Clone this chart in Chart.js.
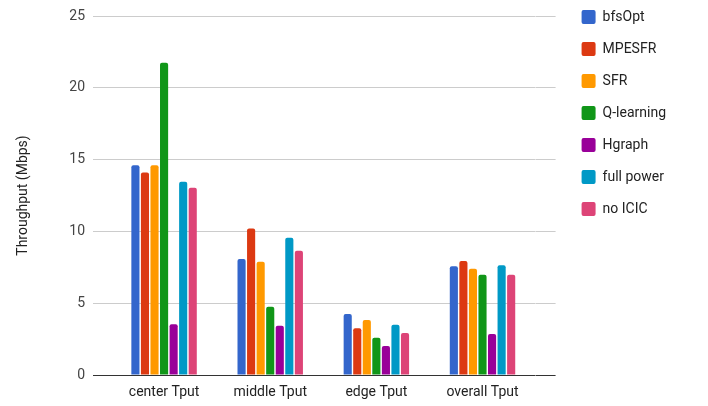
<!DOCTYPE html>
<html>
<head>
<meta charset="utf-8">
<script src="https://cdn.jsdelivr.net/npm/chart.js@4.4.1/dist/chart.umd.min.js"></script>
<style>
  body { margin: 0; background: #fff; }
  #wrap { width: 708px; height: 406px; }
</style>
</head>
<body>
<div id="wrap"><canvas id="barChart" width="708" height="406"></canvas></div>
<script>
// categories and series
var categories = ['center Tput', 'middle Tput', 'edge Tput', 'overall Tput'];
var seriesNames = ['bfsOpt', 'MPESFR', 'SFR', 'Q-learning', 'Hgraph', 'full power', 'no ICIC'];
var bfsOpt    = [14.6, 8.08, 4.25, 7.57];
var mpesfr    = [14.1, 10.21, 3.25, 7.94];
var sfr       = [14.6, 7.89, 3.83, 7.4];
var qLearning = [21.75, 4.76, 2.6, 6.98];
var hgraph    = [3.53, 3.43, 2.02, 2.86];
var fullPower = [13.46, 9.56, 3.5, 7.64];
var noIcic    = [13.04, 8.66, 2.92, 6.98];
var yMin = 0, yMax = 25, yStep = 5;

var seriesValues = [bfsOpt, mpesfr, sfr, qLearning, hgraph, fullPower, noIcic];
var colors = ['#3366cc', '#dc3912', '#ff9900', '#109618', '#990099', '#0099c6', '#dd4477'];

var datasets = seriesNames.map(function (name, i) {
  return {
    label: name,
    data: seriesValues[i],
    backgroundColor: colors[i],
    borderWidth: 0,
    borderRadius: 2,
    categoryPercentage: 0.63,
    barPercentage: 0.85
  };
});

function gridColor(ctx) {
  return ctx.tick && ctx.tick.value === 0 ? '#333333' : '#cccccc';
}

// legend sits a little higher than Chart.js puts it
var legendNudge = {
  id: 'legendNudge',
  afterLayout: function (chart) {
    chart.legend.top -= 8;
    chart.legend.bottom -= 8;
  }
};

var ctx = document.getElementById('barChart').getContext('2d');
new Chart(ctx, {
  type: 'bar',
  data: { labels: categories, datasets: datasets },
  plugins: [legendNudge],
  options: {
    responsive: false,
    animation: false,
    layout: { padding: { top: 0, right: 32, bottom: 0, left: 0 } },
    plugins: {
      tooltip: { enabled: false },
      legend: {
        position: 'right',
        align: 'start',
        labels: {
          boxWidth: 14,
          boxHeight: 14,
          padding: 18,
          useBorderRadius: true,
          borderRadius: 2,
          color: '#222222',
          font: { family: 'Roboto', size: 14 }
        }
      }
    },
    scales: {
      x: {
        grid: { display: false, drawTicks: false },
        border: { display: false },
        ticks: { color: '#222222', padding: 9, font: { family: 'Roboto', size: 14 } },
        afterFit: function (scale) { scale.height = 31; }
      },
      y: {
        min: yMin,
        max: yMax,
        ticks: { stepSize: yStep, color: '#444444', padding: 8, font: { family: 'Roboto', size: 14 } },
        grid: { color: gridColor, tickLength: 18 },
        border: { display: false },
        title: {
          display: true,
          text: 'Throughput (Mbps)',
          color: '#222222',
          padding: { top: 15, bottom: 0 },
          font: { family: 'Roboto', size: 14 }
        },
        afterFit: function (scale) { scale.width = 111; scale.paddingTop = 16; }
      },
      y2: {
        position: 'right',
        min: yMin,
        max: yMax,
        ticks: { stepSize: yStep, display: false },
        grid: { color: gridColor, drawOnChartArea: false, tickLength: 20 },
        border: { display: false },
        afterFit: function (scale) { scale.width = 28; }
      }
    }
  }
});
</script>
</body>
</html>
